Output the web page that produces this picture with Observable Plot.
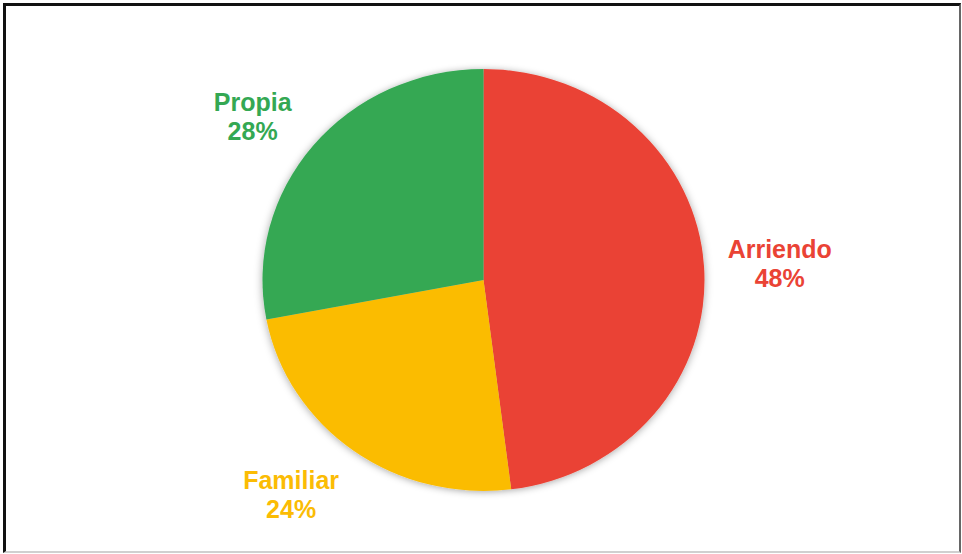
<!DOCTYPE html>
<html>
<head>
<meta charset="utf-8">
<script src="https://cdn.jsdelivr.net/npm/d3@7"></script>
<script src="https://cdn.jsdelivr.net/npm/@observablehq/plot@0.6"></script>
<style>
  html, body { margin: 0; padding: 0; background: #fff; }
  #wrap { position: relative; width: 962px; height: 554px; overflow: hidden; }
  #frame { position: absolute; left: 3px; top: 3px; width: 958px; height: 550px; box-sizing: border-box;
    border-top: 3px solid #111; border-left: 3px solid #111; border-right: 2px solid #666; border-bottom: 2px solid #d0d0d0; pointer-events: none; }
  #chart { position: absolute; left: 0; top: 0; }
</style>
</head>
<body>
<div id="wrap"><div id="chart"></div><div id="frame"></div></div>
<script>
// Data
const categories = ["Arriendo", "Familiar", "Propia"];
const values = [48, 24, 28];
const colors = ["#EA4335", "#FBBC04", "#34A853"];
const labels = ["48%", "24%", "28%"];

// Label nudges (pixels) relative to radial placement
const labelNudge = {Arriendo: [9, 0], Familiar: [-24, -8], Propia: [-10, 11]};

const rows = categories.map((c, i) => ({category: c, value: values[i], label: labels[i]}));
const arcs = d3.pie().sort(null).value(d => d.value)(rows);
arcs.forEach(a => { a.mid = (a.startAngle + a.endAngle) / 2; });

const RX = 221, RY = 211;
const labelFactor = 1.3;

const pieMark = (index, scales, values_, dimensions, context) => {
  const cx = scales.x(0), cy = scales.y(0);
  const rx = scales.x(1) - scales.x(0);
  const ry = scales.y(0) - scales.y(1);
  const g = d3.create("svg:g");
  const defs = g.append("defs");
  const f = defs.append("filter").attr("id", "pieshadow").attr("x", "-20%").attr("y", "-20%").attr("width", "140%").attr("height", "140%");
  f.append("feDropShadow").attr("dx", 0).attr("dy", 1).attr("stdDeviation", 4).attr("flood-color", "#000").attr("flood-opacity", 0.35);
  const arc = d3.arc().innerRadius(0).outerRadius(rx);
  const inner = g.append("g")
    .attr("transform", `translate(${cx},${cy}) scale(1,${ry / rx})`)
    .attr("filter", "url(#pieshadow)");
  inner.selectAll("path").data(arcs).join("path")
    .attr("d", arc)
    .attr("fill", d => scales.color(d.data.category));
  return g.node();
};

const plot = Plot.plot({
  width: 962,
  height: 554,
  margin: 0,
  x: {domain: [-1, 1], range: [262.5, 262.5 + 2 * RX], axis: null},
  y: {domain: [-1, 1], range: [280 + RY, 280 - RY], axis: null},
  color: {domain: categories, range: colors},
  style: {background: "transparent", overflow: "visible"},
  marks: [
    pieMark,
    Plot.text(arcs, {
      x: d => labelFactor * Math.sin(d.mid) + labelNudge[d.data.category][0] / RX,
      y: d => labelFactor * Math.cos(d.mid) - labelNudge[d.data.category][1] / RY,
      text: d => d.data.category + "\n" + d.data.label,
      fill: d => d.data.category,
      textAnchor: "middle",
      lineAnchor: "middle",
      lineHeight: 1.16,
      fontSize: 25,
      fontWeight: "bold",
      fontFamily: "'Liberation Sans', Arial, sans-serif"
    })
  ]
});
document.getElementById("chart").appendChild(plot);
</script>
</body>
</html>
